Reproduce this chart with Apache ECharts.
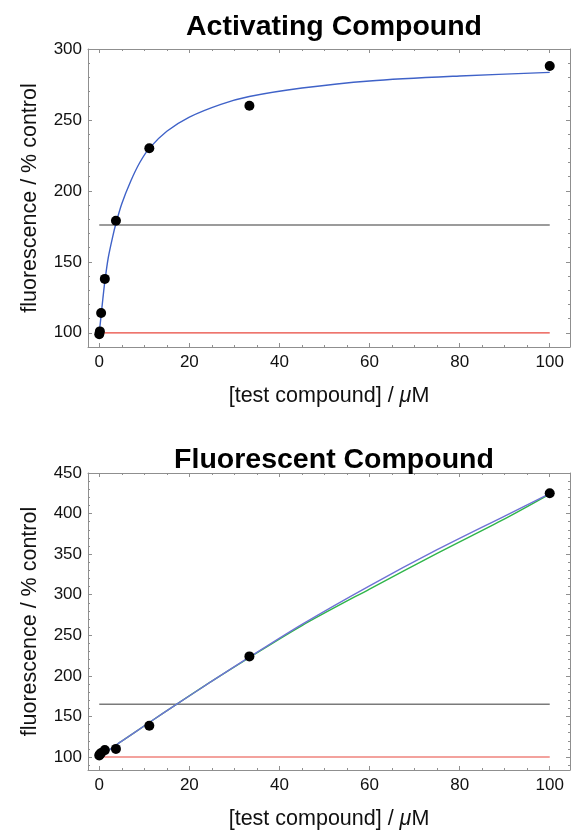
<!DOCTYPE html>
<html lang="en">
<head>
  <meta charset="UTF-8" />
  <title>Activating vs Fluorescent Compound</title>
  <script src="https://cdn.jsdelivr.net/npm/echarts@6.0.0/dist/echarts.min.js"></script>
  <style>
    html, body { margin: 0; padding: 0; background: #fff; }
    #chart { width: 572px; height: 831px; }
  </style>
</head>
<body>
  <div id="chart"></div>
  <script>
    // concentrations (uM), 3-fold dilutions
    const conc = [0, 0.137, 0.412, 1.235, 3.704, 11.11, 33.33, 100];

    // Activating compound
    const actPoints = [99, 101, 114, 138, 179, 230, 260, 288];
    const actFitX = [0, 0.15, 0.4, 0.8, 1.23, 2, 3, 3.7, 5, 7, 9, 11.1, 15, 20, 27, 33.3, 45, 60, 80, 100];
    const actFitY = [100, 104.5, 112, 124, 136, 153, 168, 177, 191, 207, 220, 230, 242, 252, 261, 266.5, 272.5, 277.5, 281, 283.5];
    const actThreshold = 176;

    // Fluorescent compound
    const fluPoints = [102, 103.5, 105, 108.5, 110, 138.5, 224, 425];
    const fluFitX = [0, 2, 5, 11.1, 17.3, 25, 33.3, 45, 60, 75, 90, 100];
    const fluFitBlue = [100, 107.8, 119.5, 142.5, 165.5, 193.5, 223, 263.5, 311, 355.5, 397, 424.5];
    const fluFitGreen = [100, 107.8, 119.5, 142.5, 165.5, 193.5, 222.5, 262, 307, 351, 393.5, 424];
    const fluThreshold = 165;

    const baseline = 100;
    const lineEnds = [0, 100];

    // axis ticks
    const xMajor = [0, 20, 40, 60, 80, 100];
    const xMinor = [5, 10, 15, 25, 30, 35, 45, 50, 55, 65, 70, 75, 85, 90, 95];
    const actYMajor = [100, 150, 200, 250, 300];
    const actYMinor = [110, 120, 130, 140, 160, 170, 180, 190, 210, 220, 230, 240, 260, 270, 280, 290];
    const fluYMajor = [100, 150, 200, 250, 300, 350, 400, 450];
    const fluYMinor = [90, 110, 120, 130, 140, 160, 170, 180, 190, 210, 220, 230, 240, 260, 270, 280, 290,
                       310, 320, 330, 340, 360, 370, 380, 390, 410, 420, 430, 440];

    const FONT = "'Liberation Sans', Arial, sans-serif";
    const FRAME = '#8f8f8f';

    const zip = (xs, ys) => xs.map((x, i) => [x, ys[i]]);

    function frameAxes(dim, gridIndex, min, max, major, minor, name) {
      const first = dim === 'x' ? 'bottom' : 'left';
      const second = dim === 'x' ? 'top' : 'right';
      const base = {
        type: 'value', gridIndex, min, max,
        splitLine: { show: false },
        axisLabel: { show: false },
        axisLine: { show: false, onZero: false }
      };
      return [
        Object.assign({}, base, {
          position: first,
          axisLine: { show: true, onZero: false, lineStyle: { color: FRAME, width: 1 } },
          axisTick: { inside: true, length: 4, customValues: major, lineStyle: { color: FRAME } },
          axisLabel: {
            show: true, customValues: major, color: '#111', fontSize: 17, fontFamily: FONT,
            margin: dim === 'x' ? 7 : 6
          },
          name: name,
          nameLocation: 'middle',
          nameGap: dim === 'x' ? 38 : 47,
          nameTextStyle: {
            color: '#111', fontSize: 21.5, fontFamily: FONT,
            rich: { mu: { fontSize: 21.5, fontStyle: 'italic', fontFamily: FONT, color: '#111' } }
          }
        }),
        Object.assign({}, base, {
          position: first,
          axisTick: { inside: true, length: 2, customValues: minor, lineStyle: { color: FRAME } }
        }),
        Object.assign({}, base, {
          position: second,
          axisLine: { show: true, onZero: false, lineStyle: { color: FRAME, width: 1 } },
          axisTick: { inside: true, length: 4, customValues: major, lineStyle: { color: FRAME } }
        }),
        Object.assign({}, base, {
          position: second,
          axisTick: { inside: true, length: 2, customValues: minor, lineStyle: { color: FRAME } }
        })
      ];
    }

    const xName = '[test compound] / {mu|\u03bc}M';
    const yName = 'fluorescence / % control';

    const xAxes = [].concat(
      frameAxes('x', 0, -2.5, 104.5, xMajor, xMinor, xName),
      frameAxes('x', 1, -2.5, 104.5, xMajor, xMinor, xName)
    );
    const yAxes = [].concat(
      frameAxes('y', 0, 90, 300, actYMajor, actYMinor, yName),
      frameAxes('y', 1, 84, 450, fluYMajor, fluYMinor, yName)
    );

    function hline(y, color, width, xi, yi) {
      return {
        type: 'line', xAxisIndex: xi, yAxisIndex: yi, data: lineEnds.map(x => [x, y]),
        showSymbol: false, silent: true, lineStyle: { color, width }, z: 2
      };
    }
    function curve(xs, ys, color, xi, yi) {
      return {
        type: 'line', xAxisIndex: xi, yAxisIndex: yi, data: zip(xs, ys),
        smooth: 0.3, showSymbol: false, silent: true,
        lineStyle: { color, width: 1.4 }, z: 3
      };
    }
    function dots(ys, xi, yi) {
      return {
        type: 'scatter', xAxisIndex: xi, yAxisIndex: yi, data: zip(conc, ys),
        symbolSize: 10, itemStyle: { color: '#000', opacity: 1 }, z: 4
      };
    }

    const chart = echarts.init(document.getElementById('chart'));
    chart.setOption({
      animation: false,
      backgroundColor: '#fff',
      title: [
        { text: 'Activating Compound', left: 329, top: 8, textAlign: 'center',
          textStyle: { fontSize: 28.5, fontWeight: 'bold', color: '#000', fontFamily: FONT } },
        { text: 'Fluorescent Compound', left: 329, top: 441, textAlign: 'center',
          textStyle: { fontSize: 28.5, fontWeight: 'bold', color: '#000', fontFamily: FONT } }
      ],
      grid: [
        { left: 88, top: 49, width: 482, height: 298 },
        { left: 88, top: 473, width: 482, height: 299 }
      ],
      xAxis: xAxes,
      yAxis: yAxes,
      series: [
        hline(actThreshold, '#7a7a7a', 1.6, 0, 0),
        hline(baseline, '#e8473c', 1.2, 0, 0),
        curve(actFitX, actFitY, '#3f62c8', 0, 0),
        dots(actPoints, 0, 0),

        hline(fluThreshold, '#7a7a7a', 1.6, 4, 4),
        hline(baseline, '#e8473c', 1.2, 4, 4),
        curve(fluFitX, fluFitGreen, '#2fb54a', 4, 4),
        curve(fluFitX, fluFitBlue, '#6f72d6', 4, 4),
        dots(fluPoints, 4, 4)
      ]
    });
  </script>
</body>
</html>
